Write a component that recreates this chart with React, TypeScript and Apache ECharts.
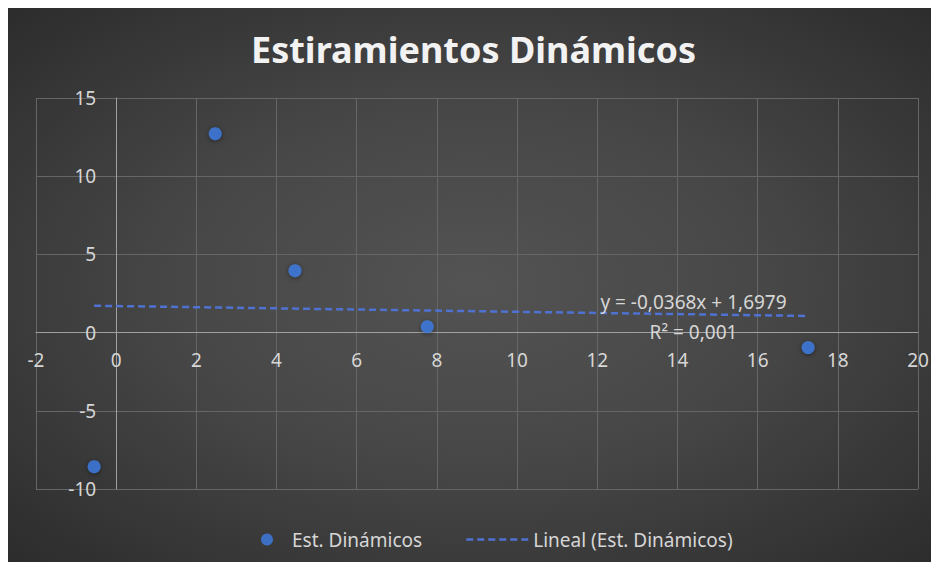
import React, { useEffect, useRef } from "react";
import * as echarts from "echarts";

const titleText = "Estiramientos Dinámicos";
const seriesName = "Est. Dinámicos";
const trendName = "Lineal (Est. Dinámicos)";
const xValues = [-0.55, 2.47, 4.46, 7.76, 17.26];
const yValues = [-8.57, 12.72, 3.96, 0.38, -0.96];
const trendSlope = -0.0368;
const trendIntercept = 1.6979;
const trendEquation = "y = -0,0368x + 1,6979";
const trendR2 = "R² = 0,001";
const xAxisRange = { min: -2, max: 20, interval: 2 };
const yAxisRange = { min: -10, max: 15, interval: 5 };

export default function App() {
  const ref = useRef<HTMLDivElement>(null);
  useEffect(() => {
    if (!ref.current) return;
    const chart = echarts.init(ref.current, undefined, { renderer: "svg" });
    const points = xValues.map((x, i) => [x, yValues[i]]);
    const xMin = Math.min(...xValues);
    const xMax = Math.max(...xValues);
    const trend = [
      [xMin, trendSlope * xMin + trendIntercept],
      [xMax, trendSlope * xMax + trendIntercept],
    ];
    const font = "'Noto Sans', sans-serif";
    const labelColor = "#d6d6d6";
    chart.setOption({
      animation: false,
      title: {
        text: titleText,
        left: "center",
        top: 18,
        textStyle: { color: "#f2f2f2", fontSize: 36, fontWeight: "bold", fontFamily: font },
      },
      grid: { left: 28, right: 21, top: 90, bottom: 73, containLabel: false, outerBoundsMode: "none" },
      xAxis: {
        type: "value",
        ...xAxisRange,
        axisLine: { onZero: false, lineStyle: { color: "#a0a0a0", width: 1 } },
        axisTick: { show: false },
        splitLine: { show: true, lineStyle: { color: "#666666", width: 1 } },
        axisLabel: { color: labelColor, fontSize: 19, fontFamily: font, margin: 18 },
      },
      yAxis: {
        type: "value",
        ...yAxisRange,
        axisLine: { show: true, onZero: false, lineStyle: { color: "#a0a0a0", width: 1 } },
        axisTick: { show: false },
        splitLine: { show: true, lineStyle: { color: "#666666", width: 1 } },
        axisLabel: { color: labelColor, fontSize: 19, fontFamily: font, margin: 20 },
      },
      legend: [
        {
          data: [seriesName],
          left: 248,
          top: 517,
          itemWidth: 12,
          itemHeight: 12,
          textStyle: { color: labelColor, fontSize: 19, fontFamily: font, padding: [0, 0, 0, 14] },
        },
        {
          data: [trendName],
          left: 452,
          top: 517,
          itemWidth: 66,
          itemHeight: 12,
          itemStyle: { opacity: 0 },
          lineStyle: { type: [7, 4], width: 2.5, color: "#4f72d2" },
          textStyle: { color: labelColor, fontSize: 19, fontFamily: font, padding: [0, 0, 0, -4] },
        },
      ],
      series: [
        {
          name: seriesName,
          type: "scatter",
          data: points,
          symbolSize: 13,
          itemStyle: {
            color: "#3f7de6",
            shadowBlur: 5,
            shadowColor: "rgba(0,0,0,0.55)",
            shadowOffsetY: 1,
          },
          z: 5,
        },
        {
          name: trendName,
          type: "line",
          data: trend,
          symbol: "none",
          lineStyle: { color: "#4f72d2", width: 2.5, type: [7, 4] },
          itemStyle: { color: "#4f72d2" },
          z: 3,
        },
      ],
    });
    const x0 = chart.convertToPixel({ xAxisIndex: 0 }, 0) as number;
    const xLeft = chart.convertToPixel({ xAxisIndex: 0 }, xAxisRange.min) as number;
    const y0 = chart.convertToPixel({ yAxisIndex: 0 }, 0) as number;
    const yBottom = chart.convertToPixel({ yAxisIndex: 0 }, yAxisRange.min) as number;
    const p = chart.convertToPixel({ gridIndex: 0 }, [14.4, 1.0]) as number[];
    chart.setOption({
      xAxis: { offset: -(yBottom - y0) },
      yAxis: { offset: -(x0 - xLeft) },
      graphic: [
        {
          type: "text",
          x: p[0],
          y: p[1],
          style: {
            text: trendEquation + "\n" + trendR2,
            fill: labelColor,
            font: "19px 'Noto Sans', sans-serif",
            align: "center",
            verticalAlign: "middle",
            lineHeight: 30,
          },
          z: 10,
        },
      ],
    });
    return () => chart.dispose();
  }, []);
  return (
    <div
      ref={ref}
      style={{
        width: 931,
        height: 554,
        background:
          "radial-gradient(ellipse at 50% 50%, #535353 0%, #474747 45%, #2c2c2c 100%)",
      }}
    />
  );
}
